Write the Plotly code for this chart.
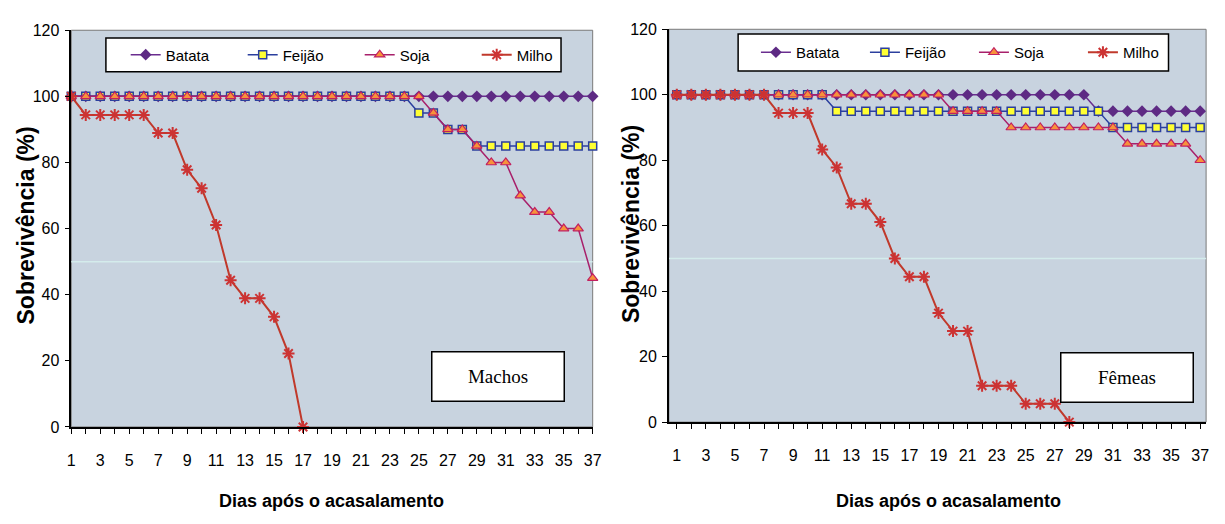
import plotly.graph_objects as go

# ---------------- data ----------------
days = [1, 2, 3, 4, 5, 6, 7, 8, 9, 10, 11, 12, 13, 14, 15, 16, 17, 18, 19, 20,
        21, 22, 23, 24, 25, 26, 27, 28, 29, 30, 31, 32, 33, 34, 35, 36, 37]
tick_labels = ["1", "", "3", "", "5", "", "7", "", "9", "", "11", "", "13", "", "15", "", "17", "", "19", "",
               "21", "", "23", "", "25", "", "27", "", "29", "", "31", "", "33", "", "35", "", "37"]
series_names = ["Batata", "Feijão", "Soja", "Milho"]

# Machos (left panel)
batata_m = [100, 100, 100, 100, 100, 100, 100, 100, 100, 100, 100, 100, 100, 100, 100, 100, 100, 100, 100, 100,
            100, 100, 100, 100, 100, 100, 100, 100, 100, 100, 100, 100, 100, 100, 100, 100, 100]
feijao_m = [100, 100, 100, 100, 100, 100, 100, 100, 100, 100, 100, 100, 100, 100, 100, 100, 100, 100, 100, 100,
            100, 100, 100, 100, 95, 95, 90, 90, 85, 85, 85, 85, 85, 85, 85, 85, 85]
soja_m = [100, 100, 100, 100, 100, 100, 100, 100, 100, 100, 100, 100, 100, 100, 100, 100, 100, 100, 100, 100,
          100, 100, 100, 100, 100, 95, 90, 90, 85, 80, 80, 70, 65, 65, 60, 60, 45]
milho_m = [100, 94.4, 94.4, 94.4, 94.4, 94.4, 88.9, 88.9, 77.8, 72.2, 61.1, 44.4, 38.9, 38.9, 33.3, 22.2, 0,
           None, None, None, None, None, None, None, None, None, None, None, None, None, None, None, None,
           None, None, None, None]

# Fêmeas (right panel)
batata_f = [100, 100, 100, 100, 100, 100, 100, 100, 100, 100, 100, 100, 100, 100, 100, 100, 100, 100, 100, 100,
            100, 100, 100, 100, 100, 100, 100, 100, 100, 95, 95, 95, 95, 95, 95, 95, 95]
feijao_f = [100, 100, 100, 100, 100, 100, 100, 100, 100, 100, 100, 95, 95, 95, 95, 95, 95, 95, 95, 95,
            95, 95, 95, 95, 95, 95, 95, 95, 95, 95, 90, 90, 90, 90, 90, 90, 90]
soja_f = [100, 100, 100, 100, 100, 100, 100, 100, 100, 100, 100, 100, 100, 100, 100, 100, 100, 100, 100, 95,
          95, 95, 95, 90, 90, 90, 90, 90, 90, 90, 90, 85, 85, 85, 85, 85, 80]
milho_f = [100, 100, 100, 100, 100, 100, 100, 94.4, 94.4, 94.4, 83.3, 77.8, 66.7, 66.7, 61.1, 50, 44.4, 44.4,
           33.3, 27.8, 27.8, 11.1, 11.1, 11.1, 5.6, 5.6, 5.6, 0,
           None, None, None, None, None, None, None, None, None]

y_title = "Sobrevivência (%)"
x_title = "Dias após o acasalamento"
panel_labels = ["Machos", "Fêmeas"]

# ---------------- styling ----------------
W, H = 1225, 524
SANS = "Liberation Sans, Arial, sans-serif"
SERIF = "Liberation Serif, Times New Roman, serif"
BG = "#c8d3df"

styles = {
    "Batata": dict(line=dict(color="#6a2d8f", width=1.5),
                   marker=dict(symbol="diamond", size=9, color="#5e2a84", line=dict(width=0))),
    "Feijão": dict(line=dict(color="#2b3f9e", width=1.5),
                   marker=dict(symbol="square", size=8, color="#ffff33", line=dict(color="#2b3f9e", width=1.5))),
    "Soja": dict(line=dict(color="#a8206b", width=1.5),
                 marker=dict(symbol="triangle-up", size=9, color="#f7923a", line=dict(color="#c22060", width=1.2))),
    "Milho": dict(line=dict(color="#c0392b", width=2),
                  marker=dict(symbol="asterisk-open", size=10, color="#cc3333", line=dict(color="#cc3333", width=2))),
}


def px(x):
    return x / W


def py(y):
    return 1 - y / H


# plot-area pixel boxes (left, right, top, bottom)
LEFT = (68, 595, 23, 433)
RIGHT = (672, 1215, 22, 428)
# right panel: day 1 at 680 px, day 37 at 1209 px
r_scale = (1209 - 680) / 36.0
r_range = [1 - (680 - RIGHT[0]) / r_scale, 37 + (RIGHT[1] - 1209) / r_scale]

fig = go.Figure()

panels = [
    ("x", "y", "legend", [batata_m, feijao_m, soja_m, milho_m]),
    ("x2", "y2", "legend2", [batata_f, feijao_f, soja_f, milho_f]),
]
for xa, ya, lg, vals in panels:
    for name, v in zip(series_names, vals):
        st = styles[name]
        fig.add_trace(go.Scatter(
            x=days, y=v, name=name, mode="lines+markers",
            xaxis=xa, yaxis=ya, legend=lg,
            line=st["line"], marker=st["marker"],
            cliponaxis=False, connectgaps=False, hoverinfo="x+y+name",
        ))

axis_common = dict(
    showline=True, linecolor="black", linewidth=1.5, mirror=False,
    ticks="outside", ticklen=5, tickwidth=1, tickcolor="black",
    showgrid=False, zeroline=False,
    tickfont=dict(family=SANS, size=16, color="black"),
)

fig.update_layout(
    width=W, height=H, autosize=False,
    margin=dict(l=0, r=0, t=0, b=0),
    paper_bgcolor="white", plot_bgcolor=BG,
    showlegend=True,
    xaxis=dict(domain=[px(LEFT[0]), px(LEFT[1])], range=[1, 37], anchor="y",
               tickmode="array", tickvals=days, ticktext=tick_labels, ticklabelstandoff=13, **axis_common),
    yaxis=dict(domain=[py(LEFT[3]), py(LEFT[2])], range=[0, 120], anchor="x",
               tickmode="linear", tick0=0, dtick=20, ticklabelstandoff=2, **axis_common),
    xaxis2=dict(domain=[px(RIGHT[0]), px(RIGHT[1])], range=r_range, anchor="y2",
                tickmode="array", tickvals=days, ticktext=tick_labels, ticklabelstandoff=13, **axis_common),
    yaxis2=dict(domain=[py(RIGHT[3]), py(RIGHT[2])], range=[0, 120], anchor="x2",
                tickmode="linear", tick0=0, dtick=20, ticklabelstandoff=2, **axis_common),
    legend=dict(orientation="h", x=px(123), y=py(48.5), xanchor="left", yanchor="middle",
                bgcolor="rgba(0,0,0,0)", borderwidth=0, entrywidth=72, entrywidthmode="pixels",
                font=dict(family=SANS, size=15, color="black"), itemclick=False, itemdoubleclick=False),
    legend2=dict(orientation="h", x=px(760), y=py(46), xanchor="left", yanchor="middle",
                 bgcolor="rgba(0,0,0,0)", borderwidth=0, entrywidth=64, entrywidthmode="pixels",
                 font=dict(family=SANS, size=15, color="black"), itemclick=False, itemdoubleclick=False),
)

shapes = []
# plot-area thin grey frame and faint line at 50
for xa, ya in (("x", "y"), ("x2", "y2")):
    shapes.append(dict(type="rect", xref=f"{xa} domain", yref=f"{ya} domain", x0=0, x1=1, y0=0, y1=1,
                       line=dict(color="#7a7a7a", width=1), fillcolor="rgba(0,0,0,0)", layer="below"))
    shapes.append(dict(type="line", xref=f"{xa} domain", yref=ya, x0=0, x1=1, y0=50, y1=50,
                       line=dict(color="#d4ecec", width=1.5), layer="below"))
# legend boxes
for (x0, x1, y0, y1) in ((103, 563, 31, 66), (742, 1177, 27, 65)):
    shapes.append(dict(type="rect", xref="paper", yref="paper", x0=px(x0), x1=px(x1), y0=py(y1), y1=py(y0),
                       line=dict(color="black", width=1.5), fillcolor="white", layer="above"))
fig.update_layout(shapes=shapes)

annotations = []
# panel labels
for label, (cx, cy) in zip(panel_labels, ((499.5, 381), (1135, 382))):
    annotations.append(dict(text=label, xref="paper", yref="paper", x=px(cx), y=py(cy),
                            xanchor="center", yanchor="middle", showarrow=False,
                            font=dict(family=SERIF, size=19, color="black"),
                            bgcolor="white", bordercolor="black", borderwidth=1.5, borderpad=0,
                            width=131, height=48))
# axis titles
for cx in (331, 955):
    annotations.append(dict(text=f"<b>{x_title}</b>", xref="paper", yref="paper", x=px(cx), y=py(510),
                            xanchor="center", yanchor="middle", showarrow=False,
                            font=dict(family=SANS, size=18, color="black")))
for cx, cy in ((22, 225), (633, 223)):
    annotations.append(dict(text=f"<b>{y_title}</b>", xref="paper", yref="paper", x=px(cx), y=py(cy),
                            xanchor="center", yanchor="middle", showarrow=False, textangle=-90,
                            font=dict(family=SANS, size=23, color="black")))
fig.update_layout(annotations=annotations)

fig.write_html("out.html", config={"displayModeBar": False})
